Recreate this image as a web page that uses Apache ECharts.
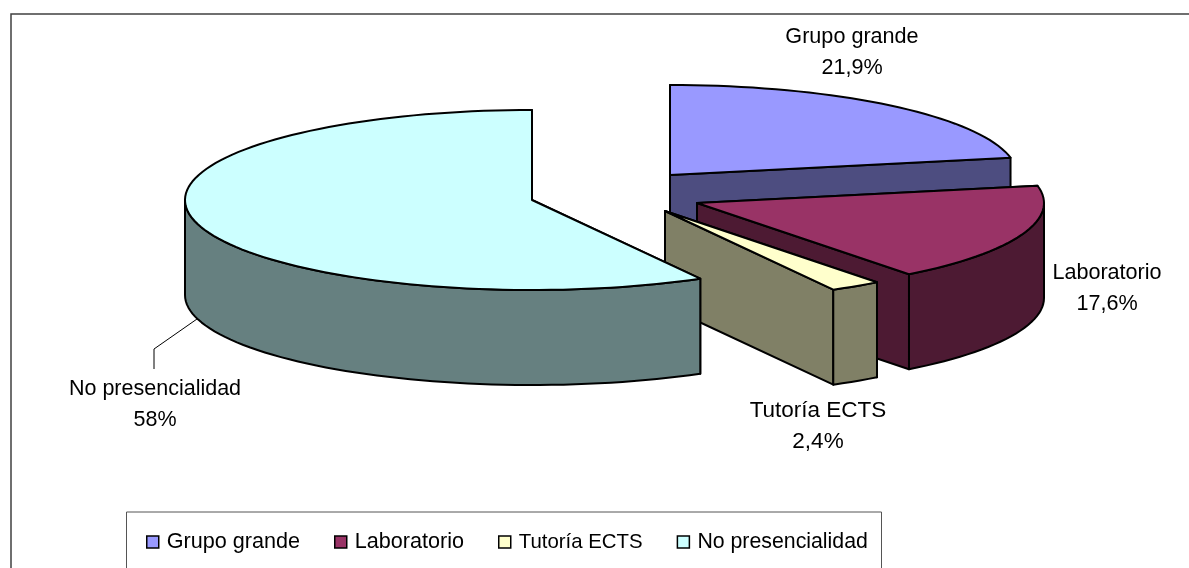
<!DOCTYPE html>
<html>
<head>
<meta charset="utf-8">
<title>Pie</title>
<script src="https://cdn.jsdelivr.net/npm/echarts@6/dist/echarts.min.js"></script>
<style>
html, body { margin: 0; padding: 0; background: #fff; }
#main { width: 1189px; height: 568px; }
</style>
</head>
<body>
<div id="main"></div>
<script>
var categories = ['Grupo grande', 'Laboratorio', 'Tutoría ECTS', 'No presencialidad'];
var values = [21.9, 17.6, 2.4, 58];
var topColors = ['#9999ff', '#993366', '#ffffcc', '#ccffff'];
var sideColors = ['#4d4d80', '#4d1a33', '#808066', '#668080'];

// exploded slice centres and label places, in pixels
var centers = [[670, 175], [697, 203], [665, 211], [532, 200]];
var labelPos = [[852, 53], [1107, 289], [818, 426], [155, 405]];
var labelSize = [21.6, 21.6, 22.5, 21.5];
var legendSize = [21.6, 21.6, 20.4, 21.3];
var leader = [[[197, 319], [154, 349], [154, 369]]];
var rx = 347, ry = 90, depth = 95;
var fontFamily = '"Liberation Sans", Arial, sans-serif';

var total = values.reduce(function (a, b) { return a + b; }, 0);

function pointAt(c, deg, dy) {
    var t = deg * Math.PI / 180;
    return [c[0] + rx * Math.sin(t), c[1] - ry * Math.cos(t) + (dy || 0)];
}

function arcPoints(c, from, to, dy) {
    var pts = [];
    var n = Math.max(2, Math.ceil((to - from) / 2));
    for (var i = 0; i <= n; i++) {
        pts.push(pointAt(c, from + (to - from) * i / n, dy));
    }
    return pts;
}

function poly(points, fill) {
    return {
        type: 'polygon',
        shape: { points: points },
        style: { fill: fill, stroke: '#000', lineWidth: 2, lineJoin: 'round' }
    };
}

function makeRender(idx) {
    return function (params, api) {
        var value = api.value(0);
        var before = 0;
        for (var i = 0; i < idx; i++) before += values[i];
        var a0 = before / total * 360;
        var a1 = a0 + value / total * 360;
        var c = centers[idx];
        var side = sideColors[idx];
        var low = [c[0], c[1] + depth];
        var kids = [];

        // cut faces, far one first
        [a0, a1].forEach(function (a) {
            kids.push(poly([c, pointAt(c, a), pointAt(c, a, depth), low], side));
        });

        // outer wall, only the part facing the viewer
        var w0 = Math.max(a0, 90), w1 = Math.min(a1, 270);
        if (w1 > w0) {
            kids.push(poly(arcPoints(c, w0, w1).concat(arcPoints(c, w0, w1, depth).reverse()), side));
        }

        // top
        kids.push(poly([c].concat(arcPoints(c, a0, a1)), topColors[idx]));

        // label
        kids.push({
            type: 'text',
            x: labelPos[idx][0],
            y: labelPos[idx][1],
            style: {
                text: categories[idx] + '\n' + String(value).replace('.', ',') + '%',
                font: labelSize[idx] + 'px ' + fontFamily,
                fill: '#000',
                align: 'center',
                verticalAlign: 'middle',
                lineHeight: 31
            }
        });

        if (leader[idx - 3]) {
            kids.push({
                type: 'polyline',
                shape: { points: leader[idx - 3] },
                style: { stroke: '#000', lineWidth: 1, fill: null }
            });
        }
        return { type: 'group', children: kids };
    };
}

var myChart = echarts.init(document.getElementById('main'));
var series = categories.map(function (name, i) {
    return {
        name: name,
        type: 'custom',
        coordinateSystem: 'none',
        silent: true,
        z: 2 + i,
        itemStyle: { color: topColors[i] },
        renderItem: makeRender(i),
        data: [[values[i]]]
    };
});

var option = {
    animation: false,
    backgroundColor: '#fff',
    graphic: [
        { type: 'rect', z: -2, shape: { x: 11, y: 14, width: 1400, height: 800 }, style: { fill: '#fff', stroke: '#404040', lineWidth: 1.5 } },
        { type: 'rect', z: 0, shape: { x: 126.5, y: 512, width: 755, height: 200 }, style: { fill: '#fff', stroke: '#555', lineWidth: 1 } }
    ],
    legend: {
        data: categories.map(function (name, i) {
            return { name: name, textStyle: { fontSize: legendSize[i] } };
        }),
        left: 146,
        top: 531,
        padding: 0,
        z: 10,
        itemWidth: 12,
        itemHeight: 12,
        itemGap: 34,
        icon: 'rect',
        selectedMode: false,
        itemStyle: { borderColor: '#000', borderWidth: 1.5 },
        textStyle: { color: '#000', fontSize: 21.5, fontFamily: fontFamily, padding: [0, 0, 0, 3] }
    },
    series: series
};
myChart.setOption(option);
</script>
</body>
</html>
